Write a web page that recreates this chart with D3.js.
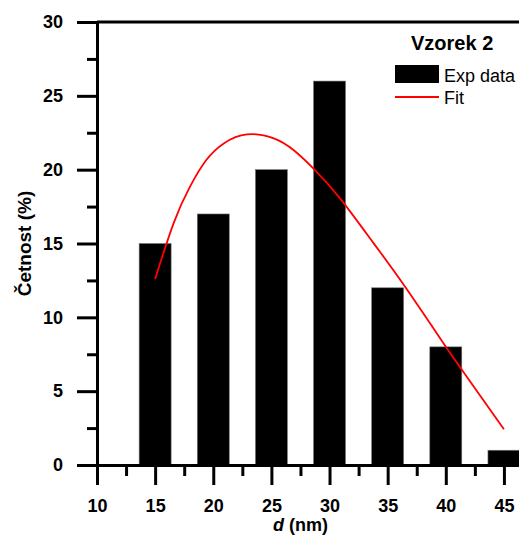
<!DOCTYPE html>
<html>
<head>
<meta charset="utf-8">
<script src="https://cdn.jsdelivr.net/npm/d3@7"></script>
<style>
  html, body { margin: 0; padding: 0; background: #fff; }
  svg { display: block; font-family: "Liberation Sans", Arial, sans-serif; }
</style>
</head>
<body>
<svg id="chart" width="519" height="538"></svg>
<script>
// Size distribution, sample 2
const sizes = [15, 20, 25, 30, 35, 40, 45];          // d (nm), bin centres
const freq  = [15, 17, 20, 26, 12, 8, 1];             // Četnost (%)

// Fitted distribution curve, sampled points (d, %)
const fitD   = [15, 16.6, 18, 19.4, 20.9, 22.9, 25.2, 26.9, 28.6, 30.9, 33.8, 36.5, 39.9, 41.5, 45];
const fitVal = [12.6, 16.4, 18.85, 20.65, 21.78, 22.39, 22.12, 21.33, 20.09, 18.06, 15.01, 12.07, 8.13, 6.32, 2.42];

const xMajor = [10, 15, 20, 25, 30, 35, 40, 45];
const xMinor = [12.5, 17.5, 22.5, 27.5, 32.5, 37.5, 42.5];
const yMajor = [0, 5, 10, 15, 20, 25, 30];
const yMinor = [2.5, 7.5, 12.5, 17.5, 22.5, 27.5];

const binWidth = 2.75;

const svg = d3.select("#chart");
const x = d3.scaleLinear().domain([10, 47.5]).range([97, 533]);
const y = d3.scaleLinear().domain([0, 30]).range([465, 22]);

// bars
svg.append("g").selectAll("rect").data(sizes).join("rect")
  .attr("x", (d) => x(d - binWidth / 2))
  .attr("width", (d) => x(d + binWidth / 2) - x(d - binWidth / 2))
  .attr("y", (d, i) => y(freq[i]))
  .attr("height", (d, i) => y(0) - y(freq[i]))
  .attr("fill", "#000")
  .attr("stroke", "#777")
  .attr("stroke-width", 0.6);

// fit curve
const line = d3.line()
  .x((d, i) => x(fitD[i]))
  .y((d, i) => y(fitVal[i]))
  .curve(d3.curveNatural);
svg.append("path")
  .datum(fitD)
  .attr("d", line)
  .attr("fill", "none")
  .attr("stroke", "#ff0000")
  .attr("stroke-width", 1.8);

function styleAxis(g) {
  g.selectAll("path, line").attr("stroke", "#000").attr("stroke-width", 3);
  g.selectAll("text").attr("fill", "#000").style("font-size", "18px").style("font-weight", "bold");
}

// x axis
svg.append("g").attr("transform", `translate(0,${y(0)})`)
  .call(d3.axisBottom(x).tickValues(xMinor).tickSize(11).tickSizeOuter(0).tickFormat(""))
  .call(styleAxis);
svg.append("g").attr("transform", `translate(0,${y(0)})`)
  .call(d3.axisBottom(x).tickValues(xMajor).tickSize(20).tickSizeOuter(0).tickPadding(14).tickFormat(d3.format("d")))
  .call(styleAxis);

// y axis
svg.append("g").attr("transform", `translate(${x(10)},0)`)
  .call(d3.axisLeft(y).tickValues(yMinor).tickSize(10).tickSizeOuter(0).tickFormat(""))
  .call(styleAxis);
svg.append("g").attr("transform", `translate(${x(10)},0)`)
  .call(d3.axisLeft(y).tickValues(yMajor).tickSize(20).tickSizeOuter(0).tickPadding(14).tickFormat(d3.format("d")))
  .call(styleAxis);

// top frame
svg.append("line")
  .attr("x1", x(10)).attr("x2", x(47.5))
  .attr("y1", y(30)).attr("y2", y(30))
  .attr("stroke", "#000").attr("stroke-width", 3);

// axis titles
svg.append("text")
  .attr("x", (x(10) + x(45)) / 2).attr("y", 531)
  .attr("text-anchor", "middle")
  .style("font-size", "18px").style("font-weight", "bold")
  .call((t) => {
    t.append("tspan").style("font-style", "italic").text("d");
    t.append("tspan").text(" (nm)");
  });
svg.append("text")
  .attr("transform", `translate(31,${(y(0) + y(30)) / 2}) rotate(-90)`)
  .attr("text-anchor", "middle")
  .style("font-size", "19px").style("font-weight", "bold")
  .text("Četnost (%)");

// legend
const lg = svg.append("g");
lg.append("text").attr("x", 411).attr("y", 50)
  .style("font-size", "20px").style("font-weight", "bold").text("Vzorek 2");
lg.append("rect").attr("x", 395).attr("y", 65).attr("width", 44).attr("height", 18).attr("fill", "#000");
lg.append("text").attr("x", 444).attr("y", 82).style("font-size", "18px").text("Exp data");
lg.append("line").attr("x1", 395).attr("x2", 439).attr("y1", 97).attr("y2", 97)
  .attr("stroke", "#ff0000").attr("stroke-width", 1.8);
lg.append("text").attr("x", 444).attr("y", 104).style("font-size", "18px").text("Fit");
</script>
</body>
</html>
